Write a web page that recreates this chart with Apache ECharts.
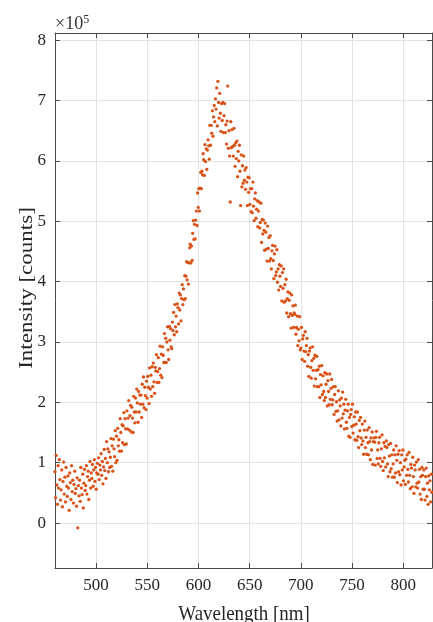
<!DOCTYPE html>
<html><head><meta charset="utf-8">
<script src="https://cdn.jsdelivr.net/npm/echarts@6/dist/echarts.min.js"></script>
<style>html,body{margin:0;padding:0;background:#fff}#c{width:433px;height:622px}</style>
</head><body><div id="c"></div>
<script>
// Intensity in units of 1e5 counts, sampled every 0.6 nm, in segments
const wavelengthStep = 0.6;
const seg1Start = 460;
const seg1 = [0.85,0.42,1.12,0.63,0.31,0.95,0.58,1.05,0.72,0.38,
0.55,0.88,0.27,0.69,1.01,0.48,0.76,0.35,0.92,0.61,
0.44,0.78,0.58,0.21,0.83,0.67,0.39,0.95,0.52,0.71,
0.33,0.64,0.86,0.49,0.57,0.28,0.75,-0.08,0.62,0.45,
0.71,0.36,0.92,0.58,0.47,0.81,0.25,0.66,0.89,0.54,
0.62,0.95,0.48,0.77,0.86,0.39,0.71,1.02,0.58,0.83,
0.74,0.97,0.61,0.88,1.05,0.69,0.92,0.56,0.83,0.99,
0.81,1.08,0.72,0.96,0.88,1.15,0.79,1.02,0.65,0.93,
1.22,0.87,1.07,0.74,1.35,1.00,1.23,0.85,1.18,0.92,
1.09,1.40,0.94,1.28,0.86,1.39,1.23,1.10,1.53,1.00];
const seg2Start = 520;
const seg2 = [1.44,1.04,1.57,1.28,1.38,1.19,1.73,1.50,1.19,1.63,
1.33,1.61,1.83,1.30,1.73,1.56,1.31,1.86,1.56,1.74,
2.03,1.54,1.78,1.95,1.51,1.92,1.74,1.50,2.10,1.84,
1.66,2.07,1.84,2.22,1.99,1.67,2.18,1.84,2.12,1.97,
2.12,1.75,2.30,1.97,2.42,1.91,2.25,2.11,1.88,2.35,
2.07,2.43,2.25,1.98,2.57,2.22,2.45,2.10,2.59,2.26,
2.65,2.34,2.15,2.58,2.52,2.79,2.33,2.51,2.74,2.33,
2.56,2.93,2.45,2.80,2.41,2.92,2.78,2.66,3.14,2.66,
3.06,2.66,3.00,3.25,2.87,2.71,3.26,3.03,3.22,2.92,
2.89,3.33,3.19,3.49,3.12,3.62,3.25,3.43,3.17,3.63,
3.57,3.30,3.81,3.53,3.78,3.35,3.72,3.95,3.62,3.88,
3.70,4.10,3.72,4.09,4.33,4.03,4.32,3.96,4.31,4.56,
4.62,4.31,4.59,4.35,4.80,5.01,4.70,4.95,4.71,5.02];
const seg3Start = 598;
const seg3 = [5.17,4.93,5.47,5.23,5.54,5.17,5.55,5.81,5.54,5.83,
5.77,6.12,6.02,5.76,6.27,5.99,6.20,5.86,6.18,6.35,
6.25,6.03,6.59,6.26,6.59,6.46,6.83,6.41,6.73,6.92,
6.65,7.03,6.86,7.21,6.58,7.32,6.97,6.71,7.12,6.79,
6.49,6.95,6.67,6.97,6.47,6.75,6.95,6.47,6.60,6.28,
6.66,7.24,6.21,6.50,6.08,5.32,6.65,6.22,6.52,6.24,
6.08,6.54,6.26,5.91,6.30,6.04,6.33,5.74,6.16,6.00,
6.26,5.83,5.26,6.10,5.57,5.92,5.63,6.08,5.68,5.85];
const seg4Start = 646;
const seg4 = [5.53,5.89,5.65,5.26,5.73,5.48,5.72,5.28,5.54,5.16,
5.54,5.14,5.65,5.25,5.01,5.37,5.47,5.05,5.20,5.34,
4.91,5.17,5.32,4.89,4.98,5.30,4.65,5.03,4.79,5.02,
4.85,4.52,4.97,4.82,4.54,4.34,4.92,4.55,4.73,4.34,
4.76,4.38,4.21,4.51,4.60,4.35,4.05,4.46,4.59,4.10,
4.16,4.53,3.99,4.21,3.86,4.28,4.09,3.92,4.26,3.68,
4.15,3.89,4.21,3.66,3.95,3.68,4.04,3.48,3.72,3.83,
3.42,3.69,3.81,3.47,3.23,3.78,3.44,3.60,3.24,3.48,
3.46,3.61,3.13,3.24,3.43,2.94,3.21,3.02,3.42,2.87,
2.90,3.24,2.71,3.05,3.11,2.85,2.68,3.17,2.84,2.94,
3.06,2.60,2.79,2.43,2.85,2.90,2.58,2.40,2.69,2.92,
2.53,2.73,2.27,2.78,2.39,2.53,2.76,2.26,2.54,2.26,
2.60,2.08,2.46,2.29,2.61,2.13,2.44,2.18,2.03,2.49,
2.08,2.30,2.47,1.94,2.36,2.18,1.96,2.47,2.05,2.23,
2.38,1.96,2.04,2.26,1.80,2.13,2.26,1.85,2.01,1.69];
const seg5Start = 736;
const seg5 = [1.86,2.19,1.71,2.04,1.94,1.61,2.07,1.74,2.17,1.81,
1.97,1.56,1.87,2.05,1.67,1.57,1.86,1.97,1.44,1.75,
1.42,1.80,1.88,1.60,1.97,1.49,1.62,1.76,1.38,1.84,
1.64,1.37,1.84,1.43,1.25,1.70,1.53,1.75,1.41,1.30,
1.64,1.36,1.14,1.54,1.69,1.25,1.42,1.14,1.54,1.33,
1.13,1.58,1.35,1.05,1.41,1.21,1.51,0.97,1.35,1.41,
1.34,0.96,1.42,1.52,1.07,1.21,0.98,1.33,1.42,1.07,
0.94,1.23,1.46,1.02,0.87,1.33,1.08,1.27,0.93,1.36,
1.25,0.98,0.77,1.30,1.11,0.85,1.32,0.90,1.13,0.76,
0.98,1.21,0.76,1.13,0.83,1.28,1.04,0.67,1.14,0.85,
1.20,0.80,1.00,0.63,1.13,0.88,1.21,0.70,0.93,1.04,
0.64,1.06,0.79,1.13,0.89,0.68,1.17,0.79,0.57,0.97,
0.91,0.60,1.09,0.77,0.49,0.96,0.88,0.60,1.01,0.66,
0.58,1.05,0.68,0.89,0.48,0.77,0.39,0.92,0.79,0.56,
0.88,0.56,0.38,0.77,0.91,0.44,0.66,0.31,0.78,0.55,
0.70,0.35,0.81,0.51,0.37];
const xTicks = [500,550,600,650,700,750,800];
const yTicks = [0,1,2,3,4,5,6,7,8];
const xLabel = 'Wavelength [nm]';
const yLabel = 'Intensity [counts]';

const segments = [[seg1Start,seg1],[seg2Start,seg2],[seg3Start,seg3],[seg4Start,seg4],[seg5Start,seg5]];
const data = [];
segments.forEach(([s,arr]) => arr.forEach((v,i) => data.push([Math.round((s + i*wavelengthStep)*10)/10, v])));

const FONT = 'Liberation Serif';
const AX = '#4a4a4a';
const chart = echarts.init(document.getElementById('c'), null, {renderer:'canvas'});
const xBase = {type:'value', min:460, max:828,
  axisLine:{show:true, onZero:false, lineStyle:{color:AX, width:1}},
  axisTick:{show:true, inside:true, length:5, customValues:xTicks, lineStyle:{color:AX}},
  axisLabel:{customValues:xTicks, fontFamily:FONT, fontSize:17, color:'#262626', margin:9},
  splitLine:{show:true, lineStyle:{color:'#e3e3e3', width:1}}};
const yBase = {type:'value', min:-0.745, max:8.12,
  axisLine:{show:true, onZero:false, lineStyle:{color:AX, width:1}},
  axisTick:{show:true, inside:true, length:5, customValues:yTicks, lineStyle:{color:AX}},
  axisLabel:{customValues:yTicks, fontFamily:FONT, fontSize:17, color:'#262626', margin:9},
  splitLine:{show:true, lineStyle:{color:'#e3e3e3', width:1}}};
chart.setOption({
  animation:false,
  backgroundColor:'#fff',
  grid:{left:55, right:1, top:33, bottom:54, containLabel:false},
  xAxis:[Object.assign({}, xBase, {position:'bottom'}),
         Object.assign({}, xBase, {position:'top', axisLabel:{show:false}, splitLine:{show:false}})],
  yAxis:[Object.assign({}, yBase, {position:'left'}),
         Object.assign({}, yBase, {position:'right', axisLabel:{show:false}, splitLine:{show:false}})],
  series:[{type:'scatter', data:data, symbol:'circle', symbolSize:3.3,
    itemStyle:{color:'#d95319', opacity:1}, xAxisIndex:0, yAxisIndex:0}],
  graphic:[
    {type:'text', left:55, top:14, style:{rich:{a:{fontFamily:FONT, fontSize:18, fill:'#333'}, b:{fontFamily:FONT, fontSize:12, fill:'#333', verticalAlign:'top', padding:[0,0,9,0]}}, text:'{a|×10}{b|5}'}},
    {type:'text', x:27, y:288, rotation:Math.PI/2, scaleY:0.85, style:{text:yLabel, fontFamily:FONT, fontSize:23, fill:'#262626', align:'center', verticalAlign:'middle'}},
    {type:'text', x:244, y:614, scaleX:0.86, style:{text:xLabel, fontFamily:FONT, fontSize:22, fill:'#262626', align:'center', verticalAlign:'middle'}}
  ]
});
</script></body></html>
